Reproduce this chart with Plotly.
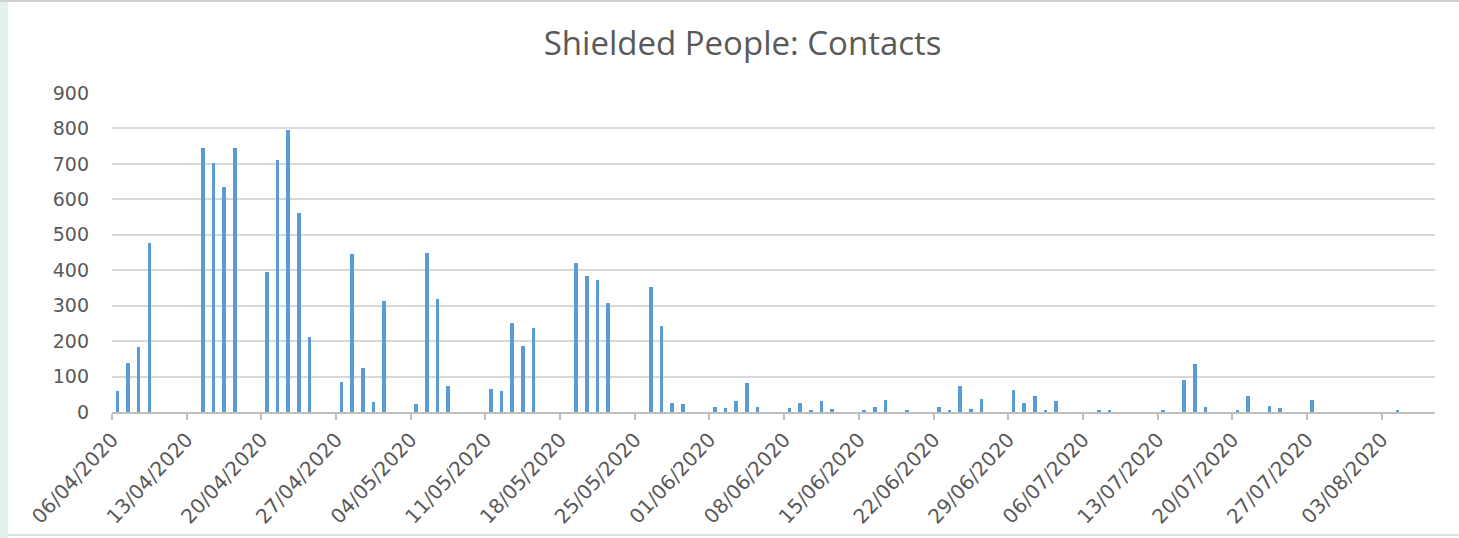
import plotly.graph_objects as go
import pandas as pd

# Daily contacts (only non-zero days listed)
dates = [
    "2020-04-06", "2020-04-07", "2020-04-08", "2020-04-09",
    "2020-04-14", "2020-04-15", "2020-04-16", "2020-04-17",
    "2020-04-20", "2020-04-21", "2020-04-22", "2020-04-23", "2020-04-24",
    "2020-04-27", "2020-04-28", "2020-04-29", "2020-04-30", "2020-05-01",
    "2020-05-04", "2020-05-05", "2020-05-06", "2020-05-07",
    "2020-05-11", "2020-05-12", "2020-05-13", "2020-05-14", "2020-05-15",
    "2020-05-19", "2020-05-20", "2020-05-21", "2020-05-22",
    "2020-05-26", "2020-05-27", "2020-05-28", "2020-05-29",
    "2020-06-01", "2020-06-02", "2020-06-03", "2020-06-04", "2020-06-05",
    "2020-06-08", "2020-06-09", "2020-06-10", "2020-06-11", "2020-06-12",
    "2020-06-15", "2020-06-16", "2020-06-17", "2020-06-19",
    "2020-06-22", "2020-06-23", "2020-06-24", "2020-06-25", "2020-06-26",
    "2020-06-29", "2020-06-30", "2020-07-01", "2020-07-02", "2020-07-03",
    "2020-07-07", "2020-07-08",
    "2020-07-13", "2020-07-15", "2020-07-16", "2020-07-17",
    "2020-07-20", "2020-07-21", "2020-07-23", "2020-07-24",
    "2020-07-27",
    "2020-08-04",
]
contacts = [
    60, 137, 184, 476,
    746, 702, 635, 746,
    396, 712, 797, 561, 213,
    85, 446, 125, 27, 314,
    22, 450, 318, 74,
    64, 58, 251, 187, 237,
    419, 385, 372, 308,
    354, 244, 25, 22,
    14, 10, 31, 82, 14,
    11, 25, 7, 32, 8,
    5, 15, 35, 5,
    14, 5, 72, 8, 38,
    61, 24, 44, 5, 31,
    4, 4,
    4, 89, 136, 14,
    5, 44, 18, 11,
    35,
    4,
]

title_text = "Shielded People: Contacts"
axis_start = "2020-04-06"
axis_end = "2020-08-08"

DAY_MS = 86400000
bar_w = 0.34 * DAY_MS

fig = go.Figure()
fig.add_trace(go.Bar(
    x=pd.to_datetime(dates),
    y=contacts,
    width=bar_w,
    offset=0.5 * DAY_MS - bar_w / 2,
    marker=dict(color="#5b9bd5", line=dict(width=0)),
    showlegend=False,
))

fig.update_layout(
    width=1459, height=538,
    margin=dict(l=112, r=24, t=93, b=126),
    paper_bgcolor="white",
    plot_bgcolor="white",
    title=dict(text=title_text, x=0.509, xanchor="center", y=0.92, yanchor="middle",
               font=dict(family="Open Sans", size=33, color="#595959")),
    bargap=0,
    xaxis=dict(
        type="date",
        range=[axis_start, axis_end],
        tick0=axis_start,
        dtick=7 * DAY_MS,
        tickformat="%d/%m/%Y",
        tickangle=-47,
        tickfont=dict(family="DejaVu Sans", size=20, color="#595959"),
        ticks="outside", ticklen=6, tickcolor="#bfbfbf", tickwidth=1.5,
        showline=True, linecolor="#bfbfbf", linewidth=1.5,
        showgrid=False, zeroline=False,
        automargin=False,
    ),
    yaxis=dict(
        range=[0, 900],
        dtick=100,
        tickfont=dict(family="DejaVu Sans", size=19, color="#595959"),
        showgrid=True, gridcolor="#d9d9d9", gridwidth=1.5,
        zeroline=False, showline=False,
        ticks="", ticklabelstandoff=22,
        automargin=False,
    ),
    shapes=[
        dict(type="rect", xref="paper", yref="paper", x0=-112/1323, x1=-104/1323,
             y0=-126/319, y1=93/319 + 1, fillcolor="#e2f0f0", line=dict(width=0), layer="below"),
        dict(type="line", xref="paper", yref="paper", x0=-112/1323, x1=1 + 24/1323,
             y0=1 + 92/319, y1=1 + 92/319, line=dict(color="#d0d0d0", width=2)),
        dict(type="line", xref="paper", yref="paper", x0=-104/1323, x1=1 + 24/1323,
             y0=-123/319, y1=-123/319, line=dict(color="#e0e0e0", width=2)),
    ],
)

fig.write_html("out.html")
